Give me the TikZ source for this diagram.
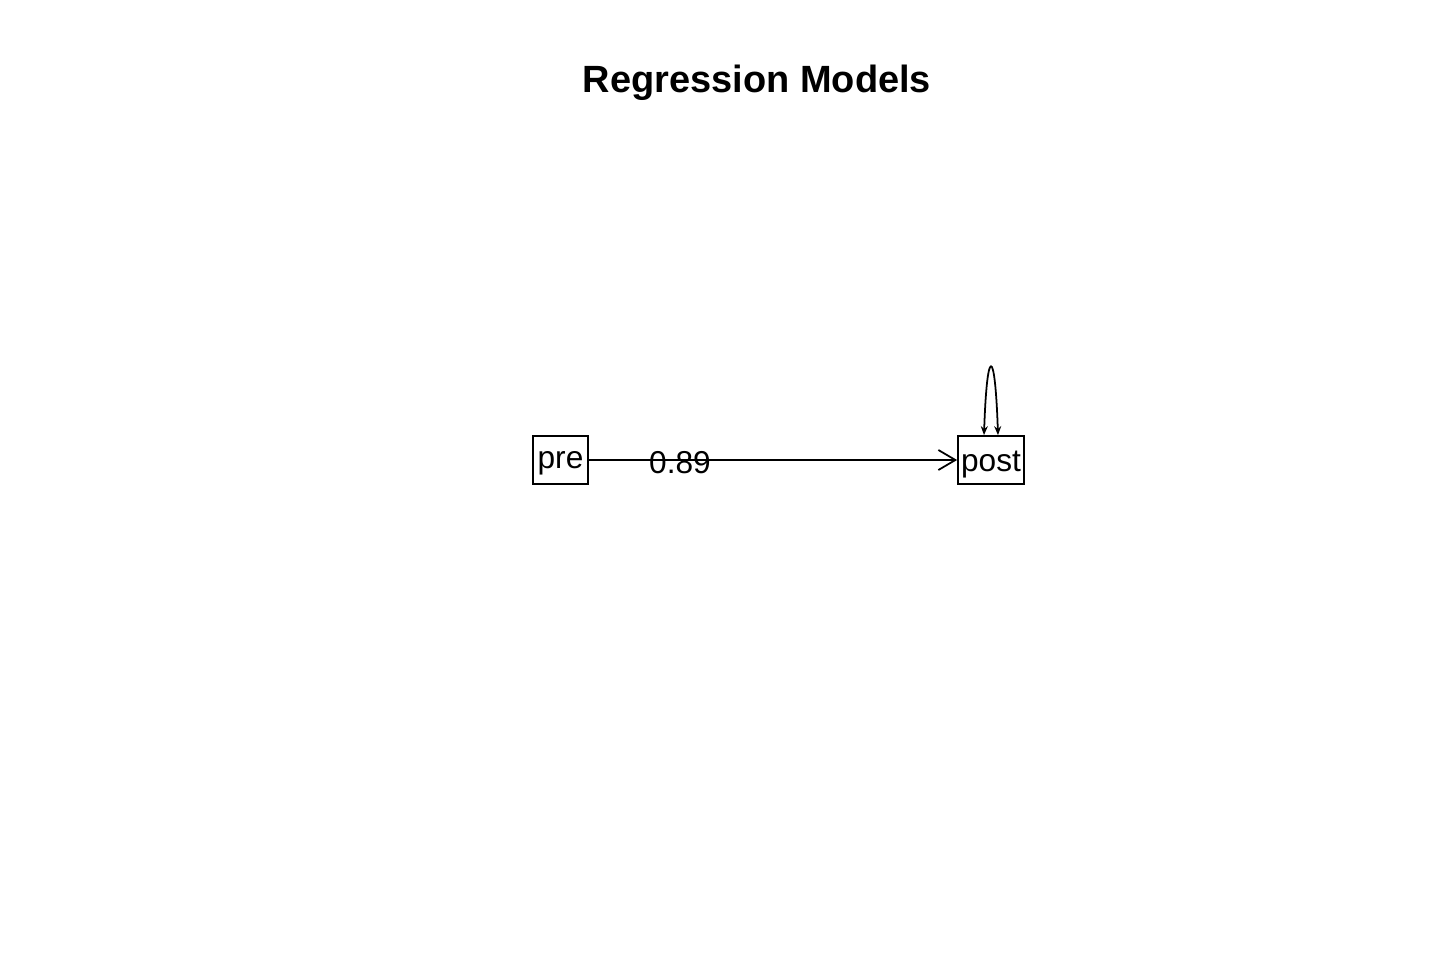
\documentclass[tikz,border=0pt]{standalone}
\usepackage{fontspec}
\setmainfont{Liberation Sans}
\usetikzlibrary{arrows.meta}
\begin{document}
\begin{tikzpicture}[
every edge/.style = {draw=black,line width=0.5pt},
 var/.style args = {#1/#2}{%
      rectangle, draw, line width=0.5pt, inner sep=0pt,
      minimum width=#1, minimum height=4.8mm,
      text height=#2, text depth=0pt, font=\fontsize{9}{11}\selectfont},
 coef/.style = {font=\fontsize{9}{11}\selectfont, inner sep=0pt}
                    ]
\useasboundingbox (0,0) rectangle (14.4,9.6);
\node(title) [font=\bfseries\fontsize{10.8}{13}\selectfont] at (7.57,8.77) {Regression Models};
\node(pre) [var=5.5mm/1.6mm] at (5.605,5.0) {pre};
\node(post) [var=6.6mm/2.2mm] at (9.91,5.0) {post};
%
\path   (pre)  edge [-{Straight Barb[length=1.7mm,width=2mm]}] (post);
\node(b1) [coef] at (6.8,4.97) {0.89};
\draw[line width=0.5pt, {Stealth[length=0.9mm,width=0.7mm]}-{Stealth[length=0.9mm,width=0.7mm]}]
        ([xshift=-0.07cm]post.north) .. controls +(0.03,0.9) and +(-0.03,0.9) .. ([xshift=0.07cm]post.north);
\end{tikzpicture}
\end{document}
